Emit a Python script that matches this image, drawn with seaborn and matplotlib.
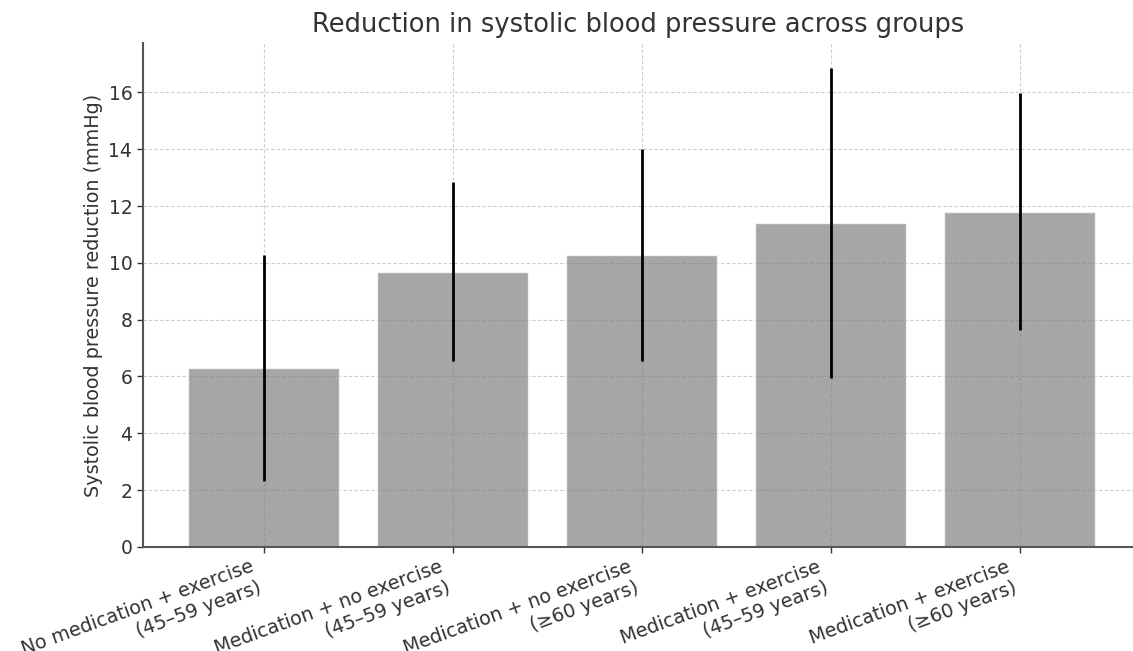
import matplotlib
matplotlib.use("Agg")
import matplotlib.pyplot as plt
import pandas as pd
import seaborn as sns

# Group labels and values
groups = [
    "No medication + exercise\n(45–59 years)",
    "Medication + no exercise\n(45–59 years)",
    "Medication + no exercise\n(≥60 years)",
    "Medication + exercise\n(45–59 years)",
    "Medication + exercise\n(≥60 years)",
]
mean_reduction = [6.3, 9.68, 10.28, 11.39, 11.8]
err = [3.98, 3.15, 3.72, 5.46, 4.17]

df = pd.DataFrame({"group": groups, "reduction": mean_reduction})

sns.set_style("whitegrid")
plt.rcParams.update({"font.family": ["DejaVu Sans"]})

fig = plt.figure(figsize=(11.33, 6.51), dpi=100)
ax = fig.add_axes([0.126, 0.160, 0.874, 0.774])

sns.barplot(
    data=df,
    x="group",
    y="reduction",
    color="gray",
    alpha=0.7,
    saturation=1,
    width=0.8,
    errorbar=None,
    ax=ax,
)
ax.errorbar(
    x=groups,
    y=mean_reduction,
    yerr=err,
    fmt="none",
    ecolor="black",
    elinewidth=2,
    capsize=0,
)

# Dashed light grid behind the translucent bars
ax.set_axisbelow(True)
ax.grid(True, linestyle=(0, (3, 2)), color="#cccccc", linewidth=0.8)

ax.set_xlim(-0.64, 4.60)
ax.set_ylim(0, 17.74)
ax.set_yticks(range(0, 17, 2))

for side in ["top", "right"]:
    ax.spines[side].set_visible(False)
for side in ["left", "bottom"]:
    ax.spines[side].set_color("#555555")
    ax.spines[side].set_linewidth(1.5)

ax.tick_params(axis="both", colors="#333333", length=4,
               width=1, direction="out", left=True, bottom=True)
ax.tick_params(axis="x", labelsize=13.8)
ax.tick_params(axis="y", labelsize=13.5)
plt.setp(ax.get_xticklabels(), rotation=20, ha="right")

ax.set_xlabel("")
ax.set_ylabel("Systolic blood pressure reduction (mmHg)", fontsize=13.8,
              color="#333333")
ax.set_title("Reduction in systolic blood pressure across groups",
             fontsize=18.5, color="#333333", pad=8)

fig.savefig("out.png", dpi=100)
